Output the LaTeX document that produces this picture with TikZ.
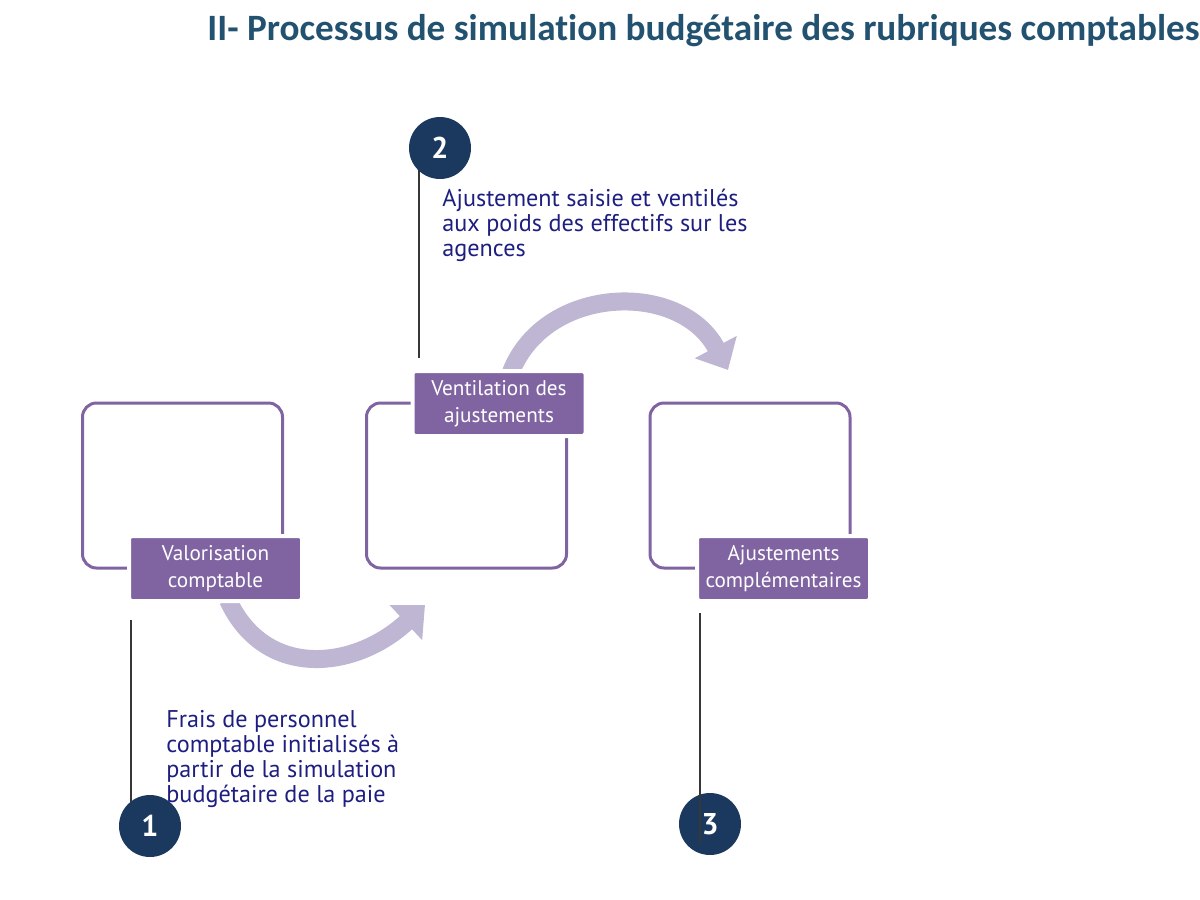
\documentclass[tikz,border=0pt]{standalone}
\usepackage{fontspec}
\setmainfont{PT Sans}
\newfontfamily\titfont[Ligatures=NoCommon]{Carlito}
\usetikzlibrary{arrows.meta,positioning,backgrounds}
\definecolor{tit}{RGB}{34, 82, 112}
\definecolor{prp}{RGB}{128, 100, 162}
\definecolor{arw}{RGB}{191, 182, 211}
\definecolor{num}{RGB}{27, 57, 94}
\definecolor{txt}{RGB}{30, 30, 128}
\definecolor{lin}{RGB}{55, 55, 55}

\tikzset{
  frame/.style={draw=prp, line width=1.5pt, rounded corners=7pt,
    minimum width=100pt, minimum height=82.5pt},
  tag/.style={fill=prp, draw=white, line width=2pt, rounded corners=1.5pt,
    minimum width=86.5pt, minimum height=32.5pt, text=white, align=center,
    font=\fontsize{10.6}{13.5}\selectfont},
  bubble/.style={circle, fill=num, minimum size=31pt, inner sep=0pt,
    text=white, font=\fontsize{15}{15}\selectfont\bfseries},
  note/.style={anchor=north west, align=left, text=txt, inner sep=0pt,
    font=\fontsize{12.1}{12.5}\selectfont},
  flow/.style={draw=arw, line width=9pt, -{Triangle[width=23pt, length=13pt]}},
  stem/.style={draw=lin, line width=1pt}
}

\begin{document}
\begin{tikzpicture}[x=0.5pt, y=-0.5pt]
  \useasboundingbox (0, 0) rectangle (1200, 900);

  % title
  \node[anchor=base west, inner sep=0pt, text=tit,
    font=\titfont\fontsize{18.6}{18.6}\selectfont\bfseries] (title) at (207, 40)
    {II- Processus de simulation budgétaire des rubriques comptables};

  % curved arrows
  \coordinate (a1s) at (228, 600);
  \coordinate (a1e) at (425, 605);
  \coordinate (a2s) at (511, 372);
  \coordinate (a2e) at (728, 370);
  \draw[flow] (a1s) .. controls (265, 680) and (355, 670) .. (a1e);
  \draw[flow] (a2s) .. controls (545, 285) and (680, 280) .. (a2e);

  % frames
  \node[frame] (box1) at (182.5, 485.5) {};
  \node[frame] (box2) at (466.5, 485.5) {};
  \node[frame] (box3) at (750, 485.5) {};

  % tags
  \node[tag] (val) at (215.5, 568.5) {Valorisation\\comptable};
  \node[tag] (ven) at (499, 403.5) {Ventilation des\\ajustements};
  \node[tag] (aju) at (783.5, 568.5) {Ajustements\\complémentaires};

  % bubbles and stems
  \coordinate (s1) at (131, 620);
  \coordinate (s2) at (419, 358);
  \coordinate (s3) at (700, 613);
  \node[bubble] (n1) at (150, 826) {1};
  \node[bubble] (n2) at (440, 148) {2};
  \node[bubble] (n3) at (710, 824) {3};
  \begin{pgfonlayer}{background}
    \draw[stem] (s1) -- (s1 |- n1);
    \draw[stem] (s2) -- (s2 |- n2);
  \end{pgfonlayer}
  \draw[stem] (s3) -- ([yshift=-9.5pt]s3 |- n3);

  % notes
  \node[note] (t1) at (166, 710) {Frais de personnel\\comptable initialisés à\\partir de la simulation\\budgétaire de la paie};
  \node[note] (t2) at (442, 189) {Ajustement saisie et ventilés\\aux poids des effectifs sur les\\agences};
\end{tikzpicture}
\end{document}
